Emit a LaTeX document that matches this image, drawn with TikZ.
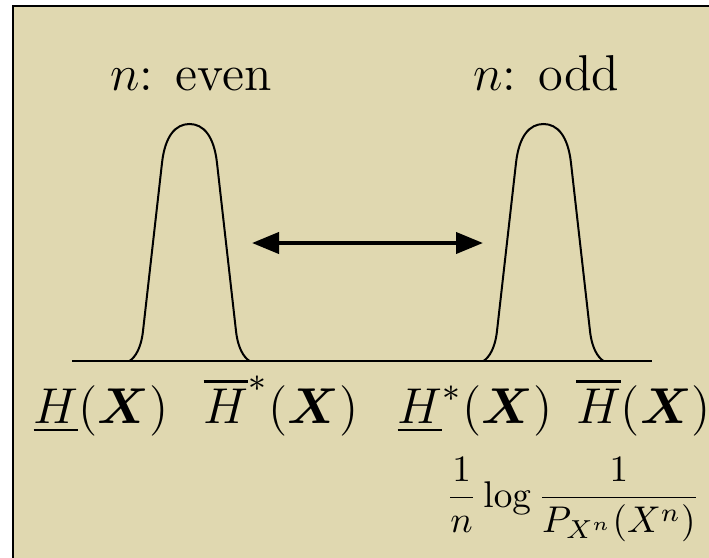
\documentclass[tikz,border=0pt]{standalone}
\usepackage{amsmath}
\usepackage{bm}
\usetikzlibrary{arrows.meta}
\definecolor{bgbeige}{RGB}{224,216,176}
\newcommand{\lblbox}[1]{\scalebox{1.05}{#1}}
\newcommand{\fmlbox}[1]{\scalebox{0.93}{#1}}
\tikzset{
  curve/.style={line width=0.5pt},
  axisline/.style={line width=0.55pt},
  frameline/.style={line width=0.65pt},
  swap/.style={line width=1pt,{Triangle[length=6.75pt,width=5.25pt]}-{Triangle[length=6.75pt,width=5.25pt]}},
  lbl/.style={anchor=base,inner sep=0pt,font=\fontsize{12}{14}\selectfont},
  formula/.style={anchor=base,inner sep=0pt,font=\fontsize{10}{12}\selectfont},
  bell/.pic={\draw[curve] (-60,0) .. controls (-54,-4) and (-48.4,-13) .. (-46.5,-30)
      -- (-27.5,-198) .. controls (-24.5,-225) and (-14,-237) .. (0,-237)
      .. controls (14,-237) and (24.5,-225) .. (27.5,-198)
      -- (46.5,-30) .. controls (48.4,-13) and (54,-4) .. (60,0);}
}
\begin{document}
\begin{tikzpicture}[x=0.25pt,y=-0.25pt]
\useasboundingbox (0,0) rectangle (709,558);
\fill[bgbeige] (13,6) rectangle (709,558);
\draw[frameline] (13,558) -- (13,6) -- (709,6);
% axis
\coordinate (axl) at (72,361);
\coordinate (axr) at (652,361);
\draw[axisline] (axl) -- (axr);
% bells
\pic (leftbell) at (189.5,361) {bell};
\pic (rightbell) at (543.5,361) {bell};
% arrow
\coordinate (al) at (252,243);
\coordinate (ar) at (483,243);
\draw[swap] (al) -- (ar);
% labels
\node[lbl] (even) at (191,90) {\lblbox{$n$: even}};
\node[lbl] (odd) at (546,90) {\lblbox{$n$: odd}};
\node[lbl] (hl) at (101,423) {\lblbox{$\underline{H}(\bm{X})$}};
\node[lbl] (hbs) at (281,423) {\lblbox{$\overline{H}^*(\bm{X})$}};
\node[lbl] (hls) at (475,423) {\lblbox{$\underline{H}^*(\bm{X})$}};
\node[lbl] (hb) at (643.5,423) {\lblbox{$\overline{H}(\bm{X})$}};
\node[formula] (f) at (573,507) {\fmlbox{$\displaystyle\frac{1}{n}\log\frac{1}{P_{X^n}(X^n)}$}};
\end{tikzpicture}
\end{document}
